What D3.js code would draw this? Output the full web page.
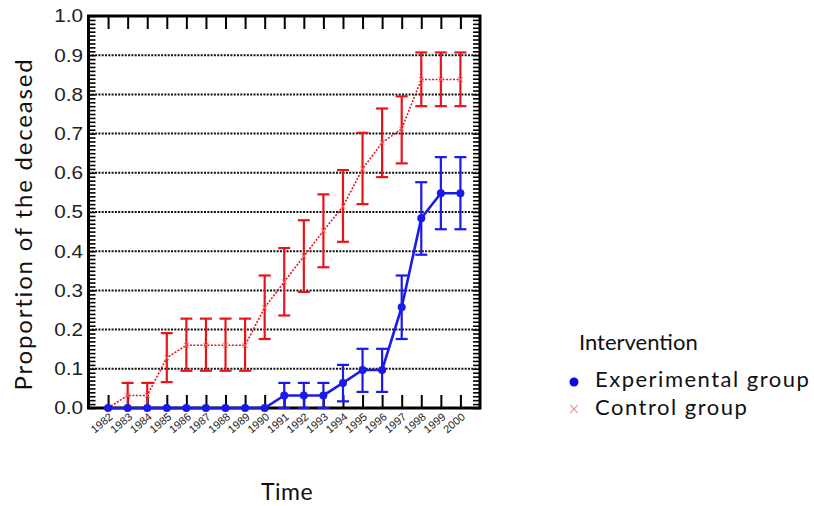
<!DOCTYPE html>
<html>
<head>
<meta charset="utf-8">
<script src="https://cdn.jsdelivr.net/npm/d3@7"></script>
<style>
  body { margin: 0; background: #fff; }
  svg { display: block; }
</style>
</head>
<body>
<div id="chart"></div>
<script>
var years = [1982, 1983, 1984, 1985, 1986, 1987, 1988, 1989, 1990, 1991,
             1992, 1993, 1994, 1995, 1996, 1997, 1998, 1999, 2000];

// experimental group (blue)
var expMean = [0, 0, 0, 0, 0, 0, 0, 0, 0, 0.032, 0.032, 0.032, 0.064, 0.097, 0.097, 0.257, 0.484, 0.548, 0.548];
var expLow  = [0, 0, 0, 0, 0, 0, 0, 0, 0, 0, 0, 0, 0.017, 0.041, 0.041, 0.176, 0.391, 0.456, 0.456];
var expHigh = [0, 0, 0, 0, 0, 0, 0, 0, 0, 0.064, 0.064, 0.064, 0.110, 0.151, 0.151, 0.338, 0.576, 0.640, 0.640];

// control group (red)
var ctrlMean = [0, 0.032, 0.032, 0.128, 0.160, 0.160, 0.160, 0.160, 0.256, 0.322, 0.387, 0.452, 0.514, 0.610, 0.677, 0.712, 0.838, 0.838, 0.838];
var ctrlLow  = [0, 0, 0, 0.066, 0.095, 0.095, 0.095, 0.095, 0.176, 0.236, 0.296, 0.359, 0.424, 0.520, 0.589, 0.624, 0.770, 0.770, 0.770];
var ctrlHigh = [0, 0.064, 0.064, 0.191, 0.228, 0.228, 0.228, 0.228, 0.338, 0.408, 0.479, 0.545, 0.607, 0.702, 0.764, 0.795, 0.907, 0.907, 0.907];

var yTicks = [0, 0.1, 0.2, 0.3, 0.4, 0.5, 0.6, 0.7, 0.8, 0.9, 1.0];
var legendLabels = ["Experimental group", "Control group"];

var w = 814;
var h = 506;
var blue = "#1a1aeb";
var red = "#e8141c";

var svg = d3.select("#chart").append("svg")
    .attr("width", w)
    .attr("height", h);

var x = d3.scaleLinear().domain([1981, 2001]).range([88.5, 480]);
var y = d3.scaleLinear().domain([0, 1]).range([408, 16]);

// grid lines
svg.append("g").selectAll("line")
    .data(yTicks.slice(1, 10))
    .enter().append("line")
    .attr("x1", x(1981)).attr("x2", x(2001))
    .attr("y1", function (d) { return y(d); })
    .attr("y2", function (d) { return y(d); })
    .attr("stroke", "#111")
    .attr("stroke-width", 2)
    .attr("stroke-dasharray", "2,1.3");

// minor ticks on left/right axes
var minor = d3.range(0, 101).map(function (i) { return i / 100; });
svg.append("g")
    .attr("transform", "translate(" + x(1981) + ",0)")
    .call(d3.axisRight(y).tickValues(minor).tickSize(7).tickFormat(""))
    .call(function (g) { g.select(".domain").remove(); })
    .selectAll("line").attr("stroke-width", 1.6);
svg.append("g")
    .attr("transform", "translate(" + x(2001) + ",0)")
    .call(d3.axisLeft(y).tickValues(minor).tickSize(7).tickFormat(""))
    .call(function (g) { g.select(".domain").remove(); })
    .selectAll("line").attr("stroke-width", 1.6);

// year ticks top and bottom
svg.append("g")
    .attr("transform", "translate(0," + y(1) + ")")
    .call(d3.axisBottom(x).tickValues(years).tickSize(13).tickFormat(""))
    .call(function (g) { g.select(".domain").remove(); })
    .selectAll("line").attr("stroke-width", 2);
svg.append("g")
    .attr("transform", "translate(0," + y(0) + ")")
    .call(d3.axisTop(x).tickValues(years).tickSize(13).tickFormat(""))
    .call(function (g) { g.select(".domain").remove(); })
    .selectAll("line").attr("stroke-width", 2);

// frame
svg.append("rect")
    .attr("x", x(1981)).attr("y", y(1))
    .attr("width", x(2001) - x(1981))
    .attr("height", y(0) - y(1))
    .attr("fill", "none")
    .attr("stroke", "#000")
    .attr("stroke-width", 3);

// y tick labels (slightly wide glyphs, as in the original)
svg.append("g").selectAll("text")
    .data(yTicks)
    .enter().append("text")
    .attr("transform", function (d) { return "translate(83," + y(d) + ") scale(1.15,1)"; })
    .attr("dy", "0.36em")
    .attr("text-anchor", "end")
    .attr("font-family", "Liberation Sans, Arial, sans-serif")
    .attr("font-size", "18px")
    .attr("fill", "#222")
    .text(function (d) { return d.toFixed(1); });

// x tick labels
svg.append("g").selectAll("text")
    .data(years)
    .enter().append("text")
    .attr("transform", function (d) { return "translate(" + (x(d) + 3) + ",415) rotate(-40)"; })
    .attr("text-anchor", "end")
    .attr("dy", "0.35em")
    .attr("font-family", "Liberation Sans, Arial, sans-serif")
    .attr("font-size", "11px")
    .attr("fill", "#222")
    .text(function (d) { return d; });

// axis titles
svg.append("text")
    .attr("transform", "translate(32,224) rotate(-90)")
    .attr("text-anchor", "middle")
    .attr("font-family", "Lato, sans-serif")
    .attr("font-size", "24px")
    .attr("letter-spacing", "1.8px")
    .attr("fill", "#111")
    .text("Proportion of the deceased");

svg.append("text")
    .attr("x", 287)
    .attr("y", 500)
    .attr("text-anchor", "middle")
    .attr("font-family", "Lato, sans-serif")
    .attr("font-size", "23px")
    .attr("letter-spacing", "0.5px")
    .attr("fill", "#111")
    .text("Time");

function drawErrors(low, high, color) {
    var g = svg.append("g").attr("stroke", color).attr("stroke-width", 2.2);
    years.forEach(function (yr, i) {
        if (high[i] - low[i] <= 0) return;
        g.append("line")
            .attr("x1", x(yr)).attr("x2", x(yr))
            .attr("y1", y(low[i])).attr("y2", y(high[i]));
        [low[i], high[i]].forEach(function (v) {
            g.append("line")
                .attr("x1", x(yr) - 6).attr("x2", x(yr) + 6)
                .attr("y1", y(v)).attr("y2", y(v));
        });
    });
}

var line = d3.line()
    .x(function (d) { return x(d[0]); })
    .y(function (d) { return y(d[1]); });

// control group
drawErrors(ctrlLow, ctrlHigh, red);
svg.append("path")
    .datum(years.map(function (yr, i) { return [yr, ctrlMean[i]]; }))
    .attr("d", line)
    .attr("fill", "none")
    .attr("stroke", red)
    .attr("stroke-width", 1.6)
    .attr("stroke-dasharray", "2,1.5");
var cross = d3.symbol().type(d3.symbolX).size(20);
svg.append("g").selectAll("path")
    .data(years)
    .enter().append("path")
    .attr("d", cross)
    .attr("transform", function (d, i) { return "translate(" + x(d) + "," + y(ctrlMean[i]) + ")"; })
    .attr("stroke", "#f07070")
    .attr("stroke-width", 1);

// experimental group
drawErrors(expLow, expHigh, blue);
svg.append("path")
    .datum(years.map(function (yr, i) { return [yr, expMean[i]]; }))
    .attr("d", line)
    .attr("fill", "none")
    .attr("stroke", blue)
    .attr("stroke-width", 2.6);
svg.append("g").selectAll("circle")
    .data(years)
    .enter().append("circle")
    .attr("cx", function (d) { return x(d); })
    .attr("cy", function (d, i) { return y(expMean[i]); })
    .attr("r", 4)
    .attr("fill", blue);

// legend
svg.append("text")
    .attr("x", 579).attr("y", 350)
    .attr("font-family", "Lato, sans-serif")
    .attr("font-size", "22px")
    .attr("fill", "#111")
    .text("Intervention");

svg.append("circle")
    .attr("cx", 574).attr("cy", 382).attr("r", 4.5)
    .attr("fill", "#0a0ae0");
svg.append("path")
    .attr("d", d3.symbol().type(d3.symbolX).size(40))
    .attr("transform", "translate(574,409)")
    .attr("stroke", "#f09090")
    .attr("stroke-width", 1.2);

svg.append("g").selectAll("text")
    .data(legendLabels)
    .enter().append("text")
    .attr("x", 595)
    .attr("y", function (d, i) { return 387 + i * 28; })
    .attr("font-family", "Lato, sans-serif")
    .attr("font-size", "22px")
    .attr("letter-spacing", "1.5px")
    .attr("fill", "#111")
    .text(function (d) { return d; });
</script>
</body>
</html>
